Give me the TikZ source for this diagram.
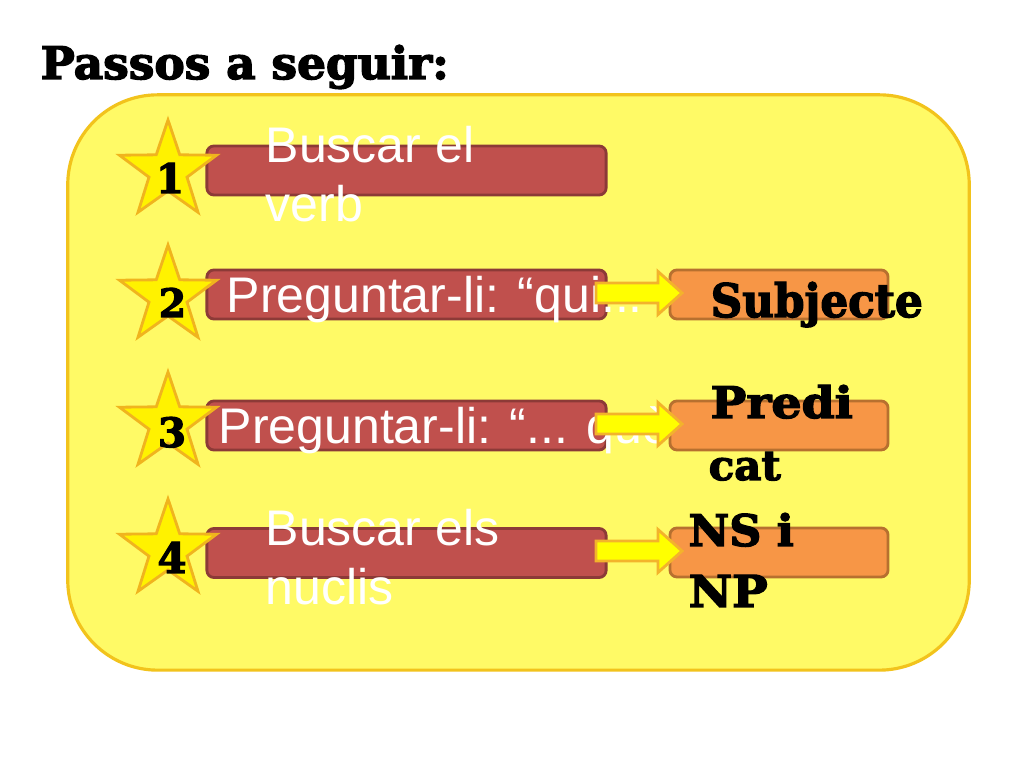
\documentclass[tikz,border=0pt]{standalone}
\usepackage{fontspec}
\usepackage{graphicx}
\setmainfont{Liberation Sans}
\newfontfamily\heavy{DejaVu Serif}[BoldFeatures={FakeBold=3}]
\definecolor{panelfill}{RGB}{255,250,102}
\definecolor{panelline}{RGB}{242,195,28}
\definecolor{starfill}{RGB}{255,242,0}
\definecolor{starline}{RGB}{240,180,30}
\definecolor{redfill}{RGB}{192,80,77}
\definecolor{redline}{RGB}{140,58,55}
\definecolor{orfill}{RGB}{247,150,70}
\definecolor{orline}{RGB}{183,112,47}
\definecolor{arrfill}{RGB}{255,255,0}
\definecolor{arrline}{RGB}{243,179,43}
\newcommand{\hvtext}[3]{\resizebox{#1}{#2}{\heavy\bfseries #3}}
\tikzset{
  panelbox/.style={draw=panelline, fill=panelfill, line width=0.9pt, rounded corners=0.9cm, minimum width=9.01cm, minimum height=5.75cm, inner sep=0},
  redbox/.style={draw=redline, fill=redfill, line width=0.8pt, rounded corners=0.07cm, minimum width=3.99cm, minimum height=0.49cm, inner sep=0},
  orbox/.style={draw=orline, fill=orfill, line width=0.8pt, rounded corners=0.07cm, minimum width=2.18cm, minimum height=0.49cm, inner sep=0},
  starshape/.style={draw=starline, fill=starfill, line width=0.8pt, line join=miter},
  arrowshape/.style={draw=arrline, fill=arrfill, line width=0.8pt, line join=miter},
  wtext/.style={text=white, font=\fontsize{14.23pt}{17pt}\selectfont, inner sep=0, anchor=base west},
  btext/.style={text=black, inner sep=0, anchor=base west},
  numtext/.style={text=black, inner sep=0, anchor=base}
}
\begin{document}
\begin{tikzpicture}[x=0.01cm,y=-0.01cm]
\useasboundingbox (0,0) rectangle (1024,768);
\fill[white] (0,0) rectangle (1024,768);

% title
\node[btext] (title) at (40,79) {\hvtext{4.08cm}{0.34cm}{Passos a seguir:}};

% panel
\node[panelbox] (panel) at (518.5,382.5) {};

% red boxes
\node[redbox] (r1) at (406.5,170.5) {};
\node[redbox] (r2) at (406.5,294.5) {};
\node[redbox] (r3) at (406.5,425.5) {};
\node[redbox] (r4) at (406.5,553) {};

% stars
\foreach \c in {171,296,423,550}{
  \draw[starshape] (168,\c) +(-90:51) -- +(-54:20) -- +(-18:51) -- +(18:20) -- +(54:51)
     -- +(90:20) -- +(126:51) -- +(162:20) -- +(198:51) -- +(234:20) -- cycle;
}

% numbers
\node[numtext] (n1) at (170,193) {\hvtext{!}{0.30cm}{1}};
\node[numtext] (n2) at (172.5,317) {\hvtext{!}{0.29cm}{2}};
\node[numtext] (n3) at (172,447) {\hvtext{!}{0.30cm}{3}};
\node[numtext] (n4) at (172,573) {\hvtext{!}{0.31cm}{4}};

% white texts
\node[wtext] (t1a) at (265,163) {Buscar el};
\node[wtext] (t1b) at (265,222) {verb};
\node[wtext] (t2) at (226,313) {Preguntar-li: “qui...};
\node[wtext] (t3) at (218,444) {Preguntar-li: “... què?”};
\node[wtext] (t4a) at (265,545.5) {Buscar els};
\node[wtext] (t4b) at (265,604.5) {nuclis};

% orange boxes
\node[orbox] (o2) at (779,294.5) {};
\node[orbox] (o3) at (779,425.5) {};
\node[orbox] (o4) at (779,552.5) {};

% arrows
\foreach \y in {293,424,551}{
  \draw[arrowshape] (596,\y-10) -- (658,\y-10) -- (658,\y-21.5) -- (682,\y)
     -- (658,\y+21.5) -- (658,\y+10) -- (596,\y+10) -- cycle;
}

% black texts
\node[btext] (b2) at (710,317) {\hvtext{2.12cm}{0.35cm}{Subjecte}};
\node[btext] (b3a) at (710,418) {\hvtext{1.42cm}{0.33cm}{Predi}};
\node[btext] (b3b) at (708,480) {\hvtext{0.72cm}{0.28cm}{cat}};
\node[btext] (b4a) at (688,546) {\hvtext{1.05cm}{0.33cm}{NS i}};
\node[btext] (b4b) at (688,607) {\hvtext{0.79cm}{0.32cm}{NP}};
\end{tikzpicture}
\end{document}
